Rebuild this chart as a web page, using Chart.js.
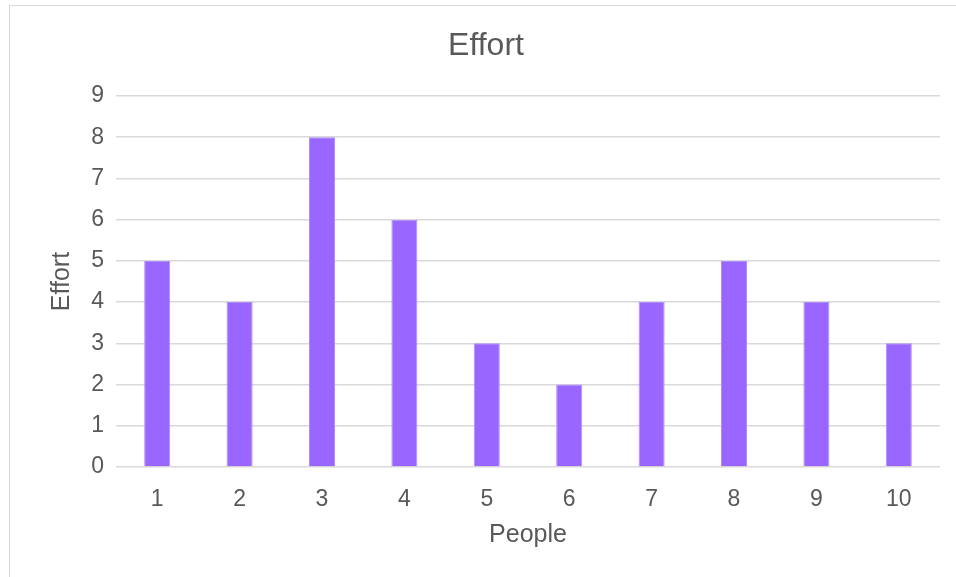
<!DOCTYPE html>
<html>
<head>
<meta charset="utf-8">
<script src="https://cdn.jsdelivr.net/npm/chart.js@4"></script>
<style>
	html, body { margin: 0; padding: 0; background: #fff; overflow: hidden; }
	#Frame { position: absolute; left: 9px; top: 5px; width: 1000px; height: 620px; border: 1px solid #d9d9d9; }
	#EffortChart { position: absolute; left: 0; top: 0; }
</style>
</head>
<body>
<div id="Frame"></div>
<canvas id="EffortChart" width="956" height="577"></canvas>
<script>
var People = ['1', '2', '3', '4', '5', '6', '7', '8', '9', '10'];
var EffortScores = [5, 4, 8, 6, 3, 2, 4, 5, 4, 3];
var EffortTicks = [0, 1, 2, 3, 4, 5, 6, 7, 8, 9];

var TextColor = '#595959';
var FontName = '"Liberation Sans", Arial, sans-serif';

new Chart(document.getElementById('EffortChart'), {
	type: 'bar',
	data: {
		labels: People,
		datasets: [{
			label: 'Effort',
			data: EffortScores,
			backgroundColor: '#9966ff',
			borderColor: '#b08cff',
			borderWidth: 1,
			barPercentage: 0.316,
			categoryPercentage: 1
		}]
	},
	options: {
		responsive: false,
		animation: false,
		devicePixelRatio: 1,
		layout: {
			padding: { left: 32, right: 16, top: 8, bottom: 0 }
		},
		plugins: {
			legend: { display: false },
			tooltip: { enabled: false },
			title: {
				display: true,
				text: 'Effort',
				color: TextColor,
				font: { family: FontName, size: 32, weight: 'normal' },
				padding: { top: 19, bottom: 30.6 }
			}
		},
		scales: {
			x: {
				grid: { display: false, drawTicks: false },
				border: { display: false },
				ticks: {
					color: TextColor,
					font: { family: FontName, size: 23 },
					padding: 19,
					maxRotation: 0
				},
				title: {
					display: true,
					text: 'People',
					color: TextColor,
					font: { family: FontName, size: 25 },
					padding: { top: 0, bottom: 27 }
				},
				afterFit: function(axis) { axis.height = 110; }
			},
			y: {
				min: 0,
				max: 9,
				afterBuildTicks: function(axis) {
					axis.ticks = EffortTicks.map(function(v) { return { value: v }; });
				},
				grid: { color: '#d9d9d9', lineWidth: 1.5, drawTicks: false },
				border: { display: false },
				ticks: {
					color: TextColor,
					font: { family: FontName, size: 23 },
					padding: 12
				},
				title: {
					display: true,
					text: 'Effort',
					color: TextColor,
					font: { family: FontName, size: 25 },
					padding: { top: 15, bottom: 0 }
				},
				afterFit: function(axis) { axis.width = 84; }
			}
		}
	}
});
</script>
</body>
</html>
